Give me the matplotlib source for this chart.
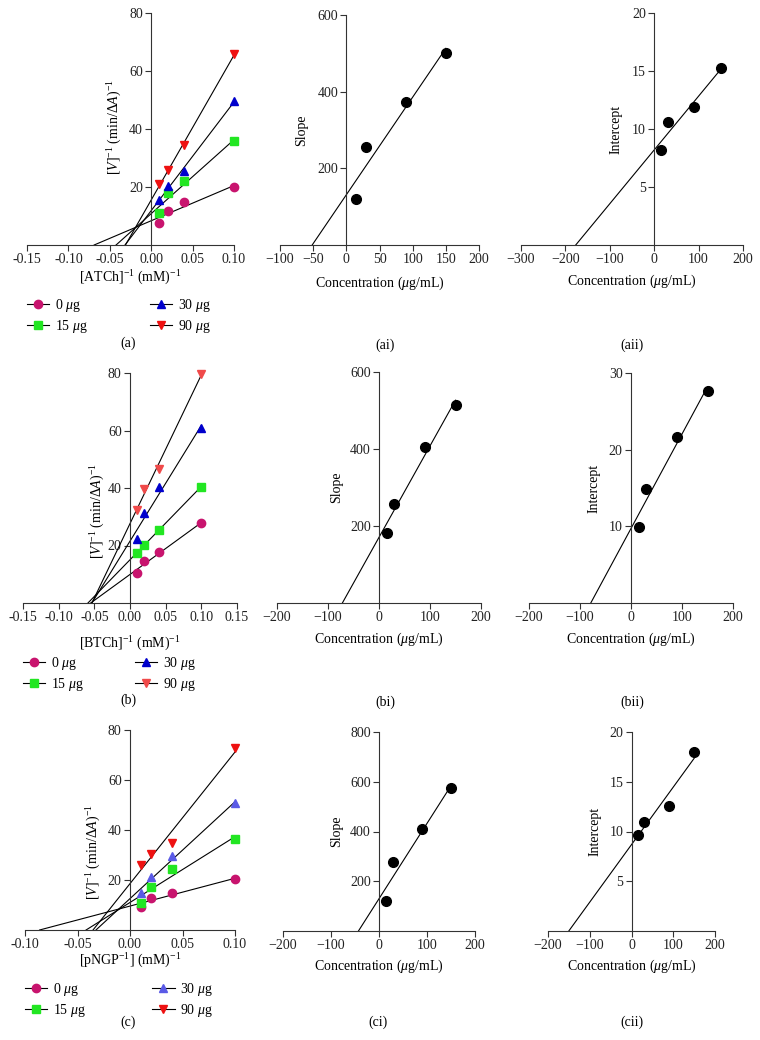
import numpy as np
import matplotlib.pyplot as plt
from matplotlib.ticker import FormatStrFormatter

plt.rcParams['font.family'] = ['Liberation Serif', 'DejaVu Serif']
plt.rcParams['mathtext.fontset'] = 'custom'
plt.rcParams['mathtext.rm'] = 'Liberation Serif'
plt.rcParams['mathtext.it'] = 'Liberation Serif:italic'

# Lineweaver-Burk data: 1/[S] and 1/V for each inhibitor dose
inv_s = [0.01, 0.02, 0.04, 0.10]
doses = ['0 $\\mu$g', '15 $\\mu$g', '30 $\\mu$g', '90 $\\mu$g']

atch_v = [[7.7, 11.8, 14.7, 19.9],
          [10.9, 17.8, 22.2, 35.7],
          [15.4, 20.5, 25.6, 49.6],
          [21.0, 25.8, 34.4, 65.8]]
btch_v = [[10.5, 14.6, 17.6, 27.7],
          [17.4, 20.3, 25.3, 40.5],
          [22.2, 31.4, 40.2, 60.7],
          [32.3, 39.8, 46.6, 79.7]]
pngp_v = [[9.3, 12.7, 14.9, 20.3],
          [10.9, 17.3, 24.3, 36.3],
          [14.7, 21.1, 29.6, 50.7],
          [26.0, 30.3, 34.7, 72.7]]

# secondary plots
conc = [15, 30, 90, 150]
atch_slope = [120, 256, 374, 500]
atch_icpt = [8.2, 10.6, 11.9, 15.3]
btch_slope = [183, 258, 404, 514]
btch_icpt = [9.9, 14.9, 21.6, 27.6]
pngp_slope = [122, 276, 411, 573]
pngp_icpt = [9.6, 11.0, 12.6, 18.0]

markers = ['o', 's', '^', 'v']
colors_a = ['#c8146e', '#22e622', '#0000cc', '#ee1111']
colors_b = ['#c8146e', '#22e622', '#0000cc', '#f04a4a']
colors_c = ['#c8146e', '#22e622', '#5a5ae6', '#ee1111']

FS = 10

fig = plt.figure(figsize=(7.6, 10.4), dpi=100)


def axes_px(l, r, t, b):
    return fig.add_axes([l / 760, 1 - b / 1040, (r - l) / 760, (b - t) / 1040])


def style(ax, xlim, ylim, xticks, yticks, fmt=None):
    ax.set_xlim(xlim)
    ax.set_ylim(ylim)
    ax.spines['left'].set_position(('data', 0))
    ax.spines['top'].set_visible(False)
    ax.spines['right'].set_visible(False)
    for s in ['left', 'bottom']:
        ax.spines[s].set_linewidth(0.8)
        ax.spines[s].set_color('#333333')
    ax.set_xticks(xticks)
    ax.set_yticks(yticks)
    if fmt:
        ax.xaxis.set_major_formatter(FormatStrFormatter(fmt))
    ax.tick_params(direction='out', length=4, width=0.8, labelsize=FS, pad=2,
                   color='#333333', labelcolor='#222222')


def fit_line(ax, x, y):
    m, b = np.polyfit(x, y, 1)
    xs = np.array([-b / m, max(x)])
    ax.plot(xs, m * xs + b, color='black', lw=0.8, clip_on=False)


def lineweaver(ax, data, colors, xlabel, xl_y, yl_x, yl_y, leg_y, colsp):
    for i in range(4):
        fit_line(ax, inv_s, data[i])
    for i in range(4):
        ax.plot(inv_s, data[i], ls='none', marker=markers[i], ms=6,
                color=colors[i], clip_on=False, zorder=3)
    handles = [plt.Line2D([], [], color='black', lw=0.8, marker=markers[i],
                          ms=6, mfc=colors[i], mec=colors[i]) for i in range(4)]
    ax.legend(handles, doses, loc='upper left', bbox_to_anchor=(0, leg_y),
              ncol=2, frameon=False, fontsize=FS, handlelength=1.6,
              handletextpad=0.4, columnspacing=colsp, borderpad=0,
              borderaxespad=0, labelspacing=0.3)
    ax.set_xlabel(xlabel, fontsize=FS, va='center')
    ax.xaxis.set_label_coords(0.5, xl_y)
    ax.set_ylabel('$[V]^{-1}$ (min/$\\Delta A$)$^{-1}$', fontsize=FS, va='center')
    ax.yaxis.set_label_coords(yl_x, yl_y)


def secondary(ax, y, ylabel, xl_y, yl_x):
    fit_line(ax, conc, y)
    ax.plot(conc, y, ls='none', marker='o', ms=7, color='black',
            clip_on=False, zorder=3)
    ax.set_xlabel('Concentration ($\\mu$g/mL)', fontsize=FS, va='center')
    ax.xaxis.set_label_coords(0.5, xl_y)
    ax.set_ylabel(ylabel, fontsize=FS, va='center')
    ax.yaxis.set_label_coords(yl_x, 0.5)


# row (a)
ax = axes_px(27, 234, 13, 245)
style(ax, (-0.15, 0.10), (0, 80), np.arange(-0.15, 0.11, 0.05), [20, 40, 60, 80], '%.2f')
lineweaver(ax, atch_v, colors_a, '[ATCh]$^{-1}$ (mM)$^{-1}$', -0.142, 0.425, 0.51, -0.222, 4.5)

ax = axes_px(280, 479, 15, 245)
style(ax, (-100, 200), (0, 600), np.arange(-100, 201, 50), [200, 400, 600])
secondary(ax, atch_slope, 'Slope', -0.165, 0.11)

ax = axes_px(521, 743, 13, 245)
style(ax, (-300, 200), (0, 20), np.arange(-300, 201, 100), [5, 10, 15, 20])
secondary(ax, atch_icpt, 'Intercept', -0.155, 0.43)

# row (b)
ax = axes_px(23, 237, 373, 603)
style(ax, (-0.15, 0.15), (0, 80), np.arange(-0.15, 0.16, 0.05), [20, 40, 60, 80], '%.2f')
lineweaver(ax, btch_v, colors_b, '[BTCh]$^{-1}$ (mM)$^{-1}$', -0.178, 0.35, 0.40, -0.225, 3.7)

ax = axes_px(277, 481, 372, 603)
style(ax, (-200, 200), (0, 600), np.arange(-200, 201, 100), [200, 400, 600])
secondary(ax, btch_slope, 'Slope', -0.156, 0.29)

ax = axes_px(529, 733, 373, 603)
style(ax, (-200, 200), (0, 30), np.arange(-200, 201, 100), [10, 20, 30])
secondary(ax, btch_icpt, 'Intercept', -0.156, 0.32)

# row (c)
ax = axes_px(25, 235, 730, 930)
style(ax, (-0.10, 0.10), (0, 80), np.arange(-0.10, 0.11, 0.05), [20, 40, 60, 80], '%.2f')
lineweaver(ax, pngp_v, colors_c, '[pNGP$^{-1}$] (mM)$^{-1}$', -0.155, 0.33, 0.39, -0.255, 4.8)

ax = axes_px(283, 475, 732, 931)
style(ax, (-200, 200), (0, 800), np.arange(-200, 201, 100), [200, 400, 600, 800])
secondary(ax, pngp_slope, 'Slope', -0.18, 0.28)

ax = axes_px(548, 715, 732, 931)
style(ax, (-200, 200), (0, 20), np.arange(-200, 201, 100), [5, 10, 15, 20])
secondary(ax, pngp_icpt, 'Intercept', -0.18, 0.28)

# panel captions
captions = [('(a)', 128, 343), ('(ai)', 385, 345), ('(aii)', 632, 345),
            ('(b)', 128, 700), ('(bi)', 385, 702), ('(bii)', 632, 702),
            ('(c)', 128, 1022), ('(ci)', 378, 1022), ('(cii)', 632, 1022)]
for txt, x, y in captions:
    fig.text(x / 760, 1 - y / 1040, txt, ha='center', va='center', fontsize=FS)

fig.savefig('out.png', dpi=100)
